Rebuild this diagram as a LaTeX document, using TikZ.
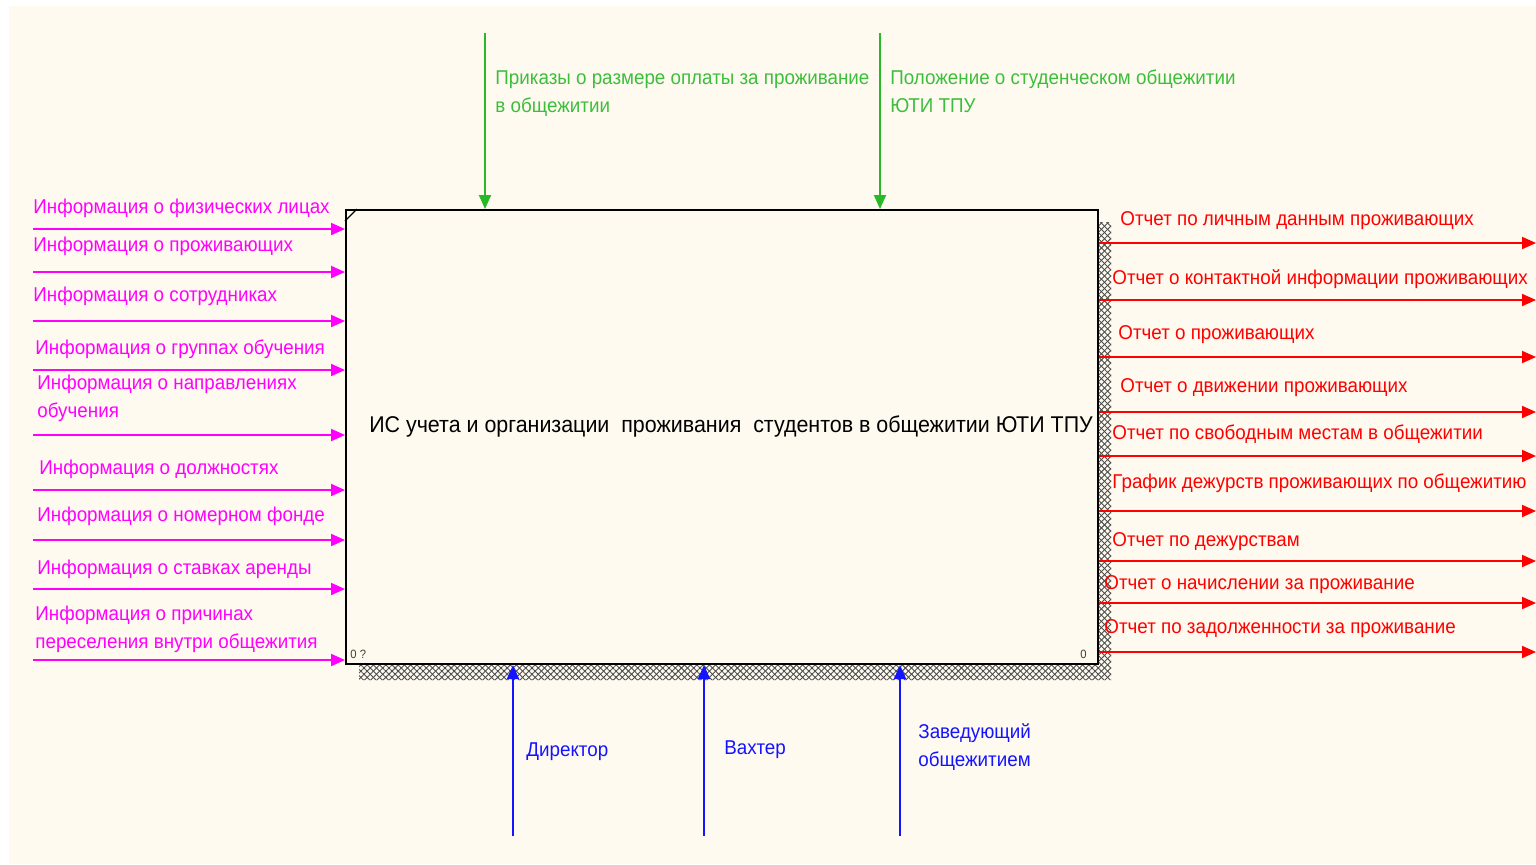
\documentclass[tikz,border=0pt]{standalone}
\usepackage{fontspec}
\setmainfont[FakeStretch=0.94]{Liberation Sans}
\usetikzlibrary{arrows.meta,patterns.meta}
\definecolor{bgc}{RGB}{255,250,240}
\definecolor{inc}{RGB}{255,0,255}
\definecolor{outc}{RGB}{255,0,0}
\definecolor{ctlc}{RGB}{40,185,40}
\definecolor{ctlt}{RGB}{60,190,60}
\definecolor{mecc}{RGB}{20,20,255}
\definecolor{numc}{RGB}{70,60,40}
\begin{document}
\begin{tikzpicture}[x=0.5pt,y=-0.5pt,
  lab/.style={inner sep=0pt, anchor=base west, align=left, font=\fontsize{10}{14}\selectfont},
  arr/.style={line width=1pt, -{Triangle[length=7pt,width=6pt]}},
  inarr/.style={arr, draw=inc},
  outarr/.style={arr, draw=outc},
  ctlarr/.style={arr, draw=ctlc},
  mecarr/.style={arr, draw=mecc},
  inlab/.style={lab, text=inc},
  outlab/.style={lab, text=outc},
  ctllab/.style={lab, text=ctlt},
  meclab/.style={lab, text=mecc},
  num/.style={inner sep=0pt, anchor=base west, font=\fontsize{6}{7}\selectfont, text=numc}]
\useasboundingbox (0,0) rectangle (1536,864);
\fill[white] (0,0) rectangle (1536,864);
\fill[bgc] (9,6) rectangle (1536,864);
% shadow
\foreach \a in {45,-45}{
  \fill[pattern={Lines[angle=\a,distance=2.2pt,line width=0.45pt]}, pattern color=black!70]
    (1097,222) rectangle (1111,680) (359,663) rectangle (1111,680);
}
% box
\node[draw=black, line width=1pt, fill=bgc, inner sep=0pt, minimum width=376pt, minimum height=227pt, anchor=north west] (box) at (345,209) {};
\draw[line width=0.6pt] (box.north west) ++(0,12) -- ++(12,-12);
\node[inner sep=0pt, font=\fontsize{11.4}{14}\selectfont] (title) at (731,426) {ИС учета и организации\ \ проживания\ \ студентов в общежитии ЮТИ ТПУ};
\node[num] (n1) at (350,658) {0 ?};
\node[num] (n2) at (1080,658) {0};
% inputs
\foreach \y [count=\i] in {229,272,321,370,435,490,540,589,660}{
  \coordinate (in\i) at (33,\y);
  \draw[inarr] (in\i) -- (in\i -| box.west);
}
\node[inlab] (il1) at (33,213) {Информация о физических лицах};
\node[inlab] (il2) at (33,251) {Информация о проживающих};
\node[inlab] (il3) at (33,301) {Информация о сотрудниках};
\node[inlab] (il4) at (35,354) {Информация о группах обучения};
\node[inlab] (il5) at (37,417) {Информация о направлениях\\обучения};
\node[inlab] (il6) at (39,474) {Информация о должностях};
\node[inlab] (il7) at (37,521) {Информация о номерном фонде};
\node[inlab] (il8) at (37,574) {Информация о ставках аренды};
\node[inlab] (il9) at (35,648) {Информация о причинах\\переселения внутри общежития};
% outputs
\foreach \y [count=\i] in {243,300,357,412,456,511,561,603,652}{
  \coordinate (out\i) at (1536,\y);
  \draw[outarr] (out\i -| box.east) -- (out\i);
}
\node[outlab] (ol1) at (1120,225) {Отчет по личным данным проживающих};
\node[outlab] (ol2) at (1112,284) {Отчет о контактной информации проживающих};
\node[outlab] (ol3) at (1118,339) {Отчет о проживающих};
\node[outlab] (ol4) at (1120,392) {Отчет о движении проживающих};
\node[outlab] (ol5) at (1112,439) {Отчет по свободным местам в общежитии};
\node[outlab] (ol6) at (1112,488) {График дежурств проживающих по общежитию};
\node[outlab] (ol7) at (1112,546) {Отчет по дежурствам};
\node[outlab] (ol8) at (1104,589) {Отчет о начислении за проживание};
\node[outlab] (ol9) at (1104,633) {Отчет по задолженности за проживание};
% controls
\foreach \x [count=\i] in {485,880}{
  \coordinate (ctl\i) at (\x,33);
  \draw[ctlarr] (ctl\i) -- (ctl\i |- box.north);
}
\node[ctllab] (cl1) at (495,112) {Приказы о размере оплаты за проживание\\в общежитии};
\node[ctllab] (cl2) at (890,112) {Положение о студенческом общежитии\\ЮТИ ТПУ};
% mechanisms
\foreach \x [count=\i] in {513,704,900}{
  \coordinate (mec\i) at (\x,836);
  \draw[mecarr] (mec\i) -- (mec\i |- box.south);
}
\node[meclab] (ml1) at (526,756) {Директор};
\node[meclab] (ml2) at (724,754) {Вахтер};
\node[meclab] (ml3) at (918,766) {Заведующий\\общежитием};
\end{tikzpicture}
\end{document}
